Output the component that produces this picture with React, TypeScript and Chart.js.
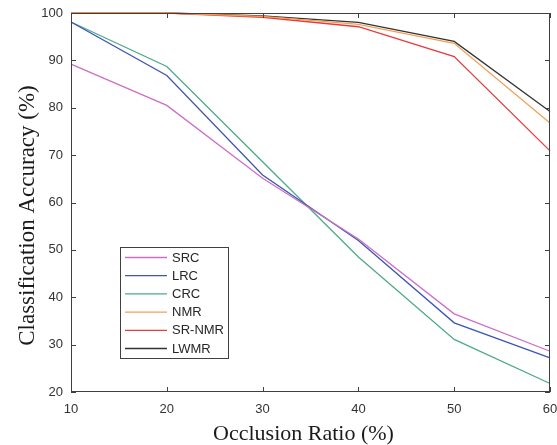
import React, { useEffect, useRef } from "react";
import { Chart, registerables } from "chart.js";

Chart.register(...registerables);

const occlusion = [10, 20, 30, 40, 50, 60];
const xTicks = [10, 20, 30, 40, 50, 60];
const yTicks = [20, 30, 40, 50, 60, 70, 80, 90, 100];

const xTitle = "Occlusion Ratio (%)";
const yTitle = "Classification Accuracy (%)";

const seriesNames = ["SRC", "LRC", "CRC", "NMR", "SR-NMR", "LWMR"];
const src = [89.2, 80.5, 65.1, 52.3, 36.5, 28.6];
const lrc = [98.1, 86.8, 65.8, 52.0, 34.6, 27.2];
const crc = [98.1, 88.7, 68.6, 48.5, 31.1, 21.8];
const nmr = [100, 100, 99.3, 97.6, 93.6, 76.8];
const srnmr = [100, 100, 99.1, 97.1, 90.8, 70.9];
const lwmr = [100, 100, 99.4, 98.0, 94.0, 79.2];
const seriesColors = ["#cc6fc6", "#3d55b5", "#4caa8a", "#f3a053", "#e83c3c", "#333333"];

const AXIS_COLOR = "#404040";
const SANS = "'Liberation Sans', Arial, Helvetica, sans-serif";
const SERIF = "'Liberation Serif', 'Times New Roman', serif";

const framePlugin = {
  id: "frameAndLegend",
  afterDraw(chart: any) {
    const { ctx, chartArea } = chart;
    const { left, right, top, bottom } = chartArea;
    const xs = chart.scales.x;
    const ys = chart.scales.y;
    ctx.save();
    ctx.strokeStyle = AXIS_COLOR;
    ctx.lineWidth = 1;
    ctx.strokeRect(left + 0.5, top + 0.5, right - left - 1, bottom - top - 1);
    const tl = 5;
    ctx.beginPath();
    for (const v of xTicks) {
      const px = Math.round(xs.getPixelForValue(v)) + 0.5;
      ctx.moveTo(px, bottom);
      ctx.lineTo(px, bottom - tl);
      ctx.moveTo(px, top);
      ctx.lineTo(px, top + tl);
    }
    for (const v of yTicks) {
      const py = Math.round(ys.getPixelForValue(v)) + 0.5;
      ctx.moveTo(left, py);
      ctx.lineTo(left + tl, py);
      ctx.moveTo(right, py);
      ctx.lineTo(right - tl, py);
    }
    ctx.stroke();

    // axis titles
    ctx.fillStyle = "#1a1a1a";
    ctx.font = "22px " + SERIF;
    ctx.textAlign = "center";
    ctx.textBaseline = "middle";
    ctx.fillText(xTitle, 303.5, 434);
    ctx.save();
    ctx.translate(28, 215.5);
    ctx.rotate(-Math.PI / 2);
    ctx.font = "23px " + SERIF;
    ctx.fillText(yTitle, 0, 0);
    ctx.restore();

    // legend box
    const bx = 120.5, by = 247.5, bw = 108, bh = 111;
    ctx.fillStyle = "#ffffff";
    ctx.fillRect(bx, by, bw, bh);
    ctx.strokeStyle = AXIS_COLOR;
    ctx.strokeRect(bx, by, bw, bh);
    ctx.font = "13px " + SANS;
    ctx.textBaseline = "middle";
    ctx.textAlign = "left";
    chart.data.datasets.forEach((ds: any, i: number) => {
      const cy = 257.5 + i * 18.2;
      ctx.strokeStyle = ds.borderColor;
      ctx.lineWidth = 1.3;
      ctx.beginPath();
      ctx.moveTo(125, cy);
      ctx.lineTo(167, cy);
      ctx.stroke();
      ctx.fillStyle = "#262626";
      ctx.fillText(ds.label, 172, cy + 0.5);
    });
    ctx.restore();
  },
};

export default function App() {
  const ref = useRef<HTMLCanvasElement>(null);
  useEffect(() => {
    if (!ref.current) return;
    const values = [src, lrc, crc, nmr, srnmr, lwmr];
    const chart = new Chart(ref.current, {
      type: "line",
      data: {
        datasets: values.map((vals, i) => ({
          label: seriesNames[i],
          data: vals.map((y, j) => ({ x: occlusion[j], y })),
          borderColor: seriesColors[i],
          backgroundColor: seriesColors[i],
          borderWidth: 1.3,
          pointRadius: 0,
          tension: 0,
          fill: false,
          clip: false,
        })),
      },
      options: {
        responsive: false,
        animation: false,
        layout: { padding: { top: 13, right: 7, left: 0, bottom: 0 } },
        plugins: { legend: { display: false }, tooltip: { enabled: false } },
        scales: {
          x: {
            type: "linear",
            min: 10,
            max: 60,
            grid: { display: false, drawTicks: false },
            border: { display: false },
            afterFit: (s: any) => { s.height = 53; s.paddingRight = 0; s.paddingLeft = 0; },
            afterBuildTicks: (s: any) => { s.ticks = xTicks.map((v) => ({ value: v })); },
            ticks: {
              padding: 10,
              color: "#333333",
              font: { family: SANS, size: 13 },
              maxRotation: 0,
            },
            title: { display: false },
          },
          y: {
            type: "linear",
            min: 20,
            max: 100,
            grid: { display: false, drawTicks: false },
            border: { display: false },
            afterFit: (s: any) => { s.width = 71; s.paddingTop = 0; s.paddingBottom = 0; },
            afterBuildTicks: (s: any) => { s.ticks = yTicks.map((v) => ({ value: v })); },
            ticks: {
              padding: 8,
              color: "#333333",
              font: { family: SANS, size: 13 },
            },
            title: { display: false },
          },
        },
      },
      plugins: [framePlugin],
    });
    return () => chart.destroy();
  }, []);
  return (
    <div style={{ position: "absolute", left: 0, top: 0, width: 557, height: 445, background: "#fff" }}>
      <canvas ref={ref} width={557} height={445} style={{ display: "block", width: 557, height: 445 }} />
    </div>
  );
}
